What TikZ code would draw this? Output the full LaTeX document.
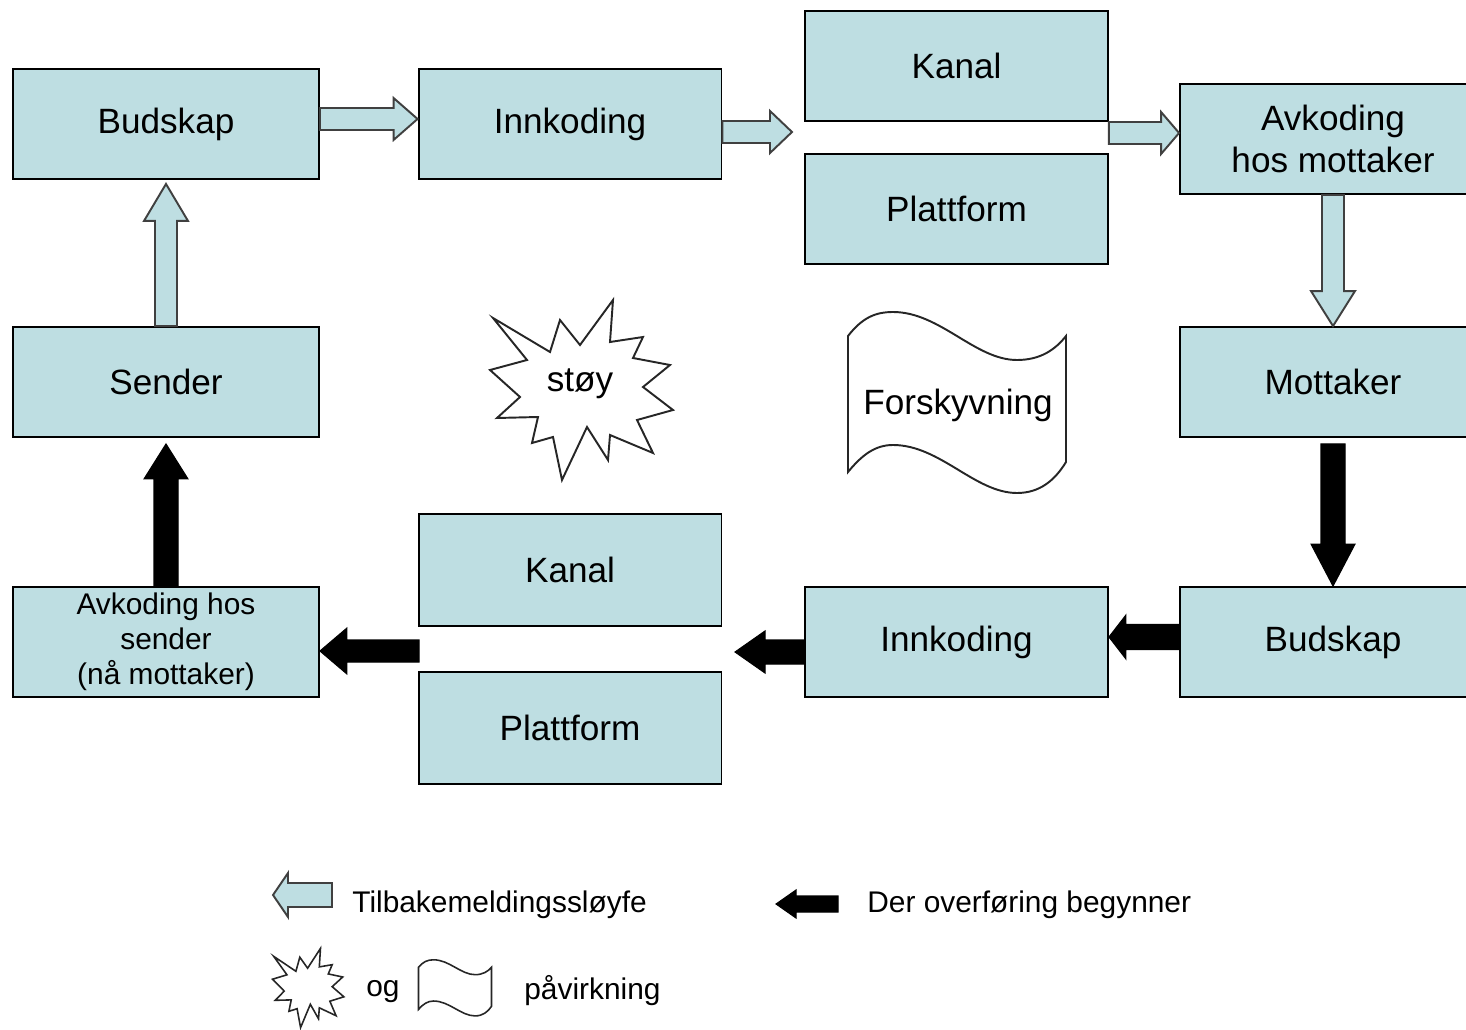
\documentclass[tikz,border=0pt]{standalone}
\usepackage{fontspec}
\setmainfont{Liberation Sans}
\usetikzlibrary{calc}
\definecolor{boxblue}{RGB}{190,222,226}
\tikzset{
  box/.style={draw=black, line width=1.1pt, fill=boxblue, minimum width=6.12cm, minimum height=2.2cm,
    inner sep=0pt, align=center, font=\fontsize{20}{24}\selectfont},
  midbox/.style={box, minimum width=6.06cm},
  lightarrow/.style={fill=boxblue, draw=black!75, line width=1.1pt, line join=miter},
  darkarrow/.style={fill=black, draw=black, line width=0.6pt, line join=miter},
  outline/.style={draw=black!85, line width=1.1pt, fill=white, line join=miter},
  shapetext/.style={font=\fontsize{20}{24}\selectfont, inner sep=0pt},
  legendtext/.style={font=\fontsize{17}{20}\selectfont, anchor=west, inner sep=0pt},
}
% #1 style, #2 start, #3 tip, #4 shaft half width, #5 head half width, #6 head length
\newcommand\blockarrow[6]{%
  \coordinate (ba-s) at #2;
  \coordinate (ba-e) at #3;
  \coordinate (ba-c) at ($(ba-e)!#6!(ba-s)$);
  \draw[#1] ($(ba-s)!#4!90:(ba-e)$) -- ($(ba-c)!#4!90:(ba-e)$) -- ($(ba-c)!#5!90:(ba-e)$)
    -- (ba-e) -- ($(ba-c)!#5!-90:(ba-e)$) -- ($(ba-c)!#4!-90:(ba-e)$) -- ($(ba-s)!#4!-90:(ba-e)$) -- cycle;
}
\newcommand\stoyshape{(-88,-72) -- (-31,-38) -- (-21,-70) -- (-1,-45) -- (32,-90) -- (29,-48) -- (62,-53) -- (52,-32) -- (89,-25) -- (62,-3) -- (92,20) -- (56,30) -- (72,63) -- (29,45) -- (27,70) -- (6,37) -- (-19,90) -- (-28,47) -- (-49,53) -- (-43,27) -- (-84,28) -- (-61,7) -- (-91,-20) -- (-54,-30) -- cycle}
\newcommand\flagshape{(-109,-67) .. controls (-95,-85) and (-82,-91) .. (-64,-91) .. controls (-17,-91) and (18,-43) .. (60,-43) .. controls (83,-43) and (98,-53) .. (109,-67) -- (109,59) .. controls (98,77) and (83,90) .. (60,90) .. controls (18,90) and (-17,42) .. (-64,42) .. controls (-82,42) and (-95,52) .. (-109,69) -- cycle}
\begin{document}
\begin{tikzpicture}[x=0.02cm,y=-0.02cm]
\useasboundingbox (0,0) rectangle (1466,1030);
% boxes
\node[box] (bud1) at (166,124) {Budskap};
\node[midbox] (inn1) at (570,124) {Innkoding};
\node[midbox] (kanal1) at (956.5,66) {Kanal};
\node[midbox] (platt1) at (956.5,209) {Plattform};
\node[box] (avk) at (1333,139) {Avkoding\\hos mottaker};
\node[box] (sender) at (166,382) {Sender};
\node[box] (mott) at (1333,382) {Mottaker};
\node[box, font=\fontsize{17}{20}\selectfont] (avs) at (166,642) {Avkoding hos\\sender\\(nå mottaker)};
\node[midbox, minimum height=2.24cm] (kanal2) at (570,570) {Kanal};
\node[midbox, minimum height=2.24cm] (platt2) at (570,728) {Plattform};
\node[midbox] (inn2) at (956.5,642) {Innkoding};
\node[box] (bud2) at (1333,642) {Budskap};
% feedback loop (light arrows)
\blockarrow{lightarrow}{([yshift=0.1cm]bud1.east)}{([yshift=0.1cm]inn1.west)}{0.22cm}{0.42cm}{0.48cm}
\coordinate (t2) at (792,132);
\blockarrow{lightarrow}{(inn1.east |- t2)}{(t2)}{0.22cm}{0.42cm}{0.44cm}
\coordinate (t3) at ([yshift=0.12cm]avk.west);
\blockarrow{lightarrow}{(kanal1.east |- t3)}{(t3)}{0.22cm}{0.42cm}{0.36cm}
\blockarrow{lightarrow}{(sender.north)}{([yshift=-0.08cm]bud1.south)}{0.22cm}{0.44cm}{0.74cm}
\blockarrow{lightarrow}{(avk.south)}{(mott.north)}{0.22cm}{0.44cm}{0.7cm}
% transfer (black arrows)
\blockarrow{darkarrow}{([yshift=-0.12cm]mott.south)}{(bud2.north)}{0.24cm}{0.44cm}{0.84cm}
\blockarrow{darkarrow}{([yshift=0.1cm]bud2.west)}{([yshift=0.1cm]inn2.east)}{0.25cm}{0.44cm}{0.34cm}
\coordinate (t8) at (735,652);
\blockarrow{darkarrow}{(inn2.west |- t8)}{(t8)}{0.24cm}{0.42cm}{0.6cm}
\coordinate (s9) at (419,651);
\blockarrow{darkarrow}{(s9)}{(avs.east |- s9)}{0.22cm}{0.46cm}{0.54cm}
\blockarrow{darkarrow}{(avs.north)}{([yshift=-0.12cm]sender.south)}{0.24cm}{0.44cm}{0.7cm}
% noise and distortion
\draw[outline, shift={(581,390)}] \stoyshape;
\node[shapetext] (stoy) at (580,384) {støy};
\draw[outline, shift={(957,403)}] \flagshape;
\node[shapetext] (forsk) at (958,405) {Forskyvning};
% legend
\coordinate (l1s) at (332,895);
\coordinate (l1e) at (273,895);
\blockarrow{lightarrow}{(l1s)}{(l1e)}{0.24cm}{0.44cm}{0.3cm}
\node[legendtext] (leg1) at (352,905) {Tilbakemeldingssløyfe};
\coordinate (l2s) at (838,904);
\coordinate (l2e) at (776,904);
\blockarrow{darkarrow}{(l2s)}{(l2e)}{0.16cm}{0.28cm}{0.4cm}
\node[legendtext] (leg2) at (867,905) {Der overføring begynner};
\draw[outline, line width=0.9pt, shift={(308,988)}, xscale=0.39, yscale=0.44] \stoyshape;
\node[legendtext] (og) at (366,992) {og};
\draw[outline, line width=0.9pt, shift={(455,988)}, xscale=0.335, yscale=0.31] \flagshape;
\node[legendtext] (leg3) at (524,991) {påvirkning};
\end{tikzpicture}
\end{document}
